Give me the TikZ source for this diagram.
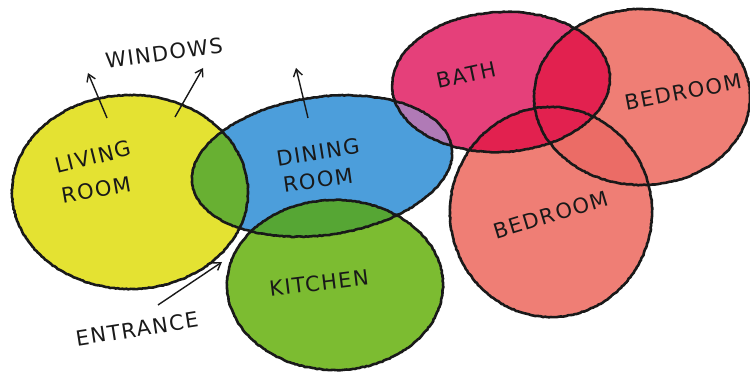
\documentclass[tikz,border=0pt]{standalone}
\usepackage{fontspec}
\setmainfont{DejaVu Sans}
\usetikzlibrary{arrows.meta,decorations.pathmorphing}

\definecolor{livingyellow}{HTML}{E4E232}
\definecolor{diningblue}{HTML}{4C9EDB}
\definecolor{kitchengreen}{HTML}{7CBC31}
\definecolor{ldgreen}{HTML}{68B032}
\definecolor{dkgreen}{HTML}{56A634}
\definecolor{bathpink}{HTML}{E5407A}
\definecolor{bdmauve}{HTML}{B07AB6}
\definecolor{bedsalmon}{HTML}{EF7E75}
\definecolor{bedbed}{HTML}{EB6C66}
\definecolor{bathbed}{HTML}{E2214F}

% room outlines (pixel units, y down)
\newcommand\livingpath{(130,192) ellipse [x radius=118, y radius=97]}
\newcommand\diningpath{(322,166) ellipse [x radius=131, y radius=69, rotate=8]}
\newcommand\kitchenpath{(335,285) ellipse [x radius=108, y radius=85]}
\newcommand\bathpath{(501,82) ellipse [x radius=109, y radius=70, rotate=3]}
\newcommand\bedrpath{(642,97) ellipse [x radius=108, y radius=88]}
\newcommand\bedbpath{(551,212) ellipse [x radius=101, y radius=105]}

\tikzset{
  outline/.style={draw=black!90, line width=2.6pt, decorate,
    decoration={random steps, segment length=2pt, amplitude=0.4pt}},
  lettering/.style={inner sep=0pt, text=black!90,
    font=\fontsize{21}{21}\selectfont\addfontfeature{LetterSpace=7}},
  pointer/.style={draw=black!90, line width=1.4pt,
    -{Straight Barb[length=7pt, width=9pt, line width=1.4pt]}}
}

\begin{document}
\begin{tikzpicture}[x=1pt, y=-1pt]
  \useasboundingbox (0,0) rectangle (750,379);
  % base fills
  \fill[livingyellow] \livingpath;
  \fill[diningblue] \diningpath;
  \fill[kitchengreen] \kitchenpath;
  \fill[bedsalmon] \bedrpath;
  \fill[bedsalmon] \bedbpath;
  \fill[bathpink] \bathpath;
  % overlaps
  \begin{scope}
    \clip \livingpath;
    \fill[ldgreen] \diningpath;
  \end{scope}
  \begin{scope}
    \clip \diningpath;
    \fill[dkgreen] \kitchenpath;
    \fill[bdmauve] \bathpath;
  \end{scope}
  \begin{scope}
    \clip \bedrpath;
    \fill[bedbed] \bedbpath;
  \end{scope}
  \begin{scope}
    \clip \bathpath;
    \fill[bathbed] \bedrpath;
    \fill[bathbed] \bedbpath;
  \end{scope}
  % outlines
  \path[outline] \livingpath;
  \path[outline] \diningpath;
  \path[outline] \kitchenpath;
  \path[outline] \bathpath;
  \path[outline] \bedrpath;
  \path[outline] \bedbpath;

  % labels
  \node[lettering, rotate=8] (windows) at (164,53) {WINDOWS};
  \node[lettering, rotate=14] (living) at (93,157) {LIVING};
  \node[lettering, rotate=10] (livroom) at (96,190) {ROOM};
  \node[lettering, rotate=9] (dining) at (318,152) {DINING};
  \node[lettering, rotate=8] (dinroom) at (318,180) {ROOM};
  \node[lettering, rotate=7] (kitchen) at (319,283) {KITCHEN};
  \node[lettering, rotate=9] (entrance) at (137,329) {ENTRANCE};
  \node[lettering, rotate=12] (bath) at (466,75) {BATH};
  \node[lettering, rotate=11] (bedroomr) at (683,92) {BEDROOM};
  \node[lettering, rotate=17] (bedroomb) at (551,215) {BEDROOM};

  % arrows
  \coordinate (w1a) at (107,118);
  \coordinate (w1b) at (88,73);
  \coordinate (w2a) at (175,117);
  \coordinate (w2b) at (203,68);
  \coordinate (w3a) at (308,118);
  \coordinate (w3b) at (296,68);
  \coordinate (ena) at (158,305);
  \coordinate (enb) at (222,262);
  \draw[pointer] (w1a) -- (w1b);
  \draw[pointer] (w2a) -- (w2b);
  \draw[pointer] (w3a) -- (w3b);
  \draw[pointer] (ena) -- (enb);
\end{tikzpicture}
\end{document}
